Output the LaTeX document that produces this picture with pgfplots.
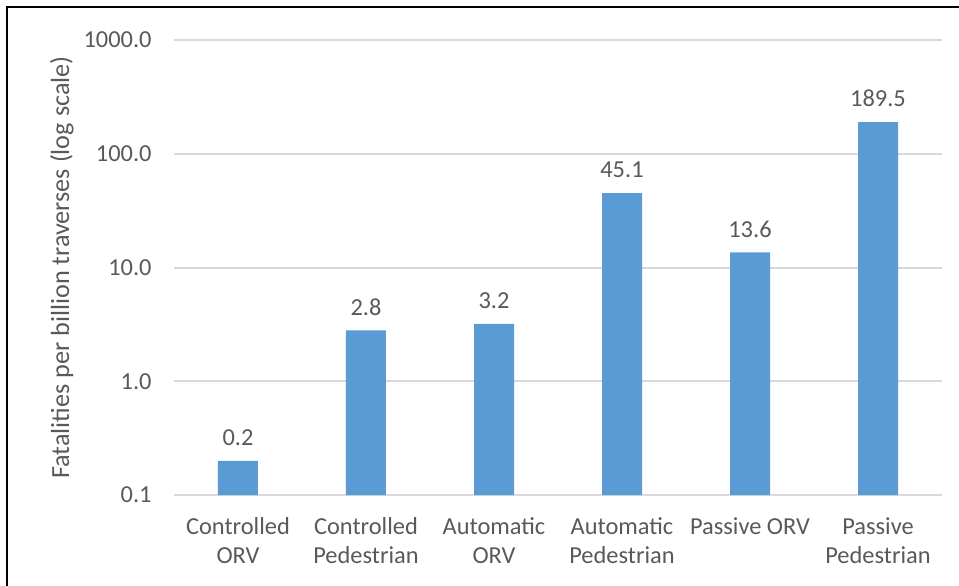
\documentclass[border=0pt]{standalone}
\usepackage{pgfplots}
\pgfplotsset{compat=1.18}
\usepackage{fontspec}
\setmainfont{Carlito}
\definecolor{barblue}{HTML}{5B9BD5}
\definecolor{txtgray}{HTML}{595959}
\definecolor{gridgray}{HTML}{D9D9D9}
\begin{document}
\begin{tikzpicture}
\begin{axis}[
  at={(0,0)}, anchor=south west,
  scale only axis,
  width=384pt, height=227.5pt,
  ymode=log, log origin=infty,
  ymin=0.1, ymax=1000,
  xmin=-0.5, xmax=5.5,
  ybar, bar width=20pt,
  axis line style={draw=none},
  major tick length=0pt,
  ymajorgrids, grid style={gridgray, line width=1pt},
  ytick={0.1,1,10,100,1000},
  yticklabels={0.1,1.0,10.0,100.0,1000.0},
  yminorticks=false,
  xtick={0,1,2,3,4,5},
  xticklabels={Controlled\\ORV, Controlled\\Pedestrian, Automatic\\ORV, Automatic\\Pedestrian, Passive ORV, Passive\\Pedestrian},
  /pgf/number format/assume math mode=true,
  ticklabel style={font=\fontsize{12.2}{14.2}\selectfont, text=txtgray},
  yticklabel style={anchor=east, inner sep=0pt, xshift=-11pt},
  xticklabel style={align=center, anchor=north, inner sep=0pt, yshift=-11.3pt},
  ylabel={Fatalities per billion traverses (log scale)},
  every axis y label/.style={at={(axis description cs:-0.146,0.5)}, rotate=90, anchor=center, font=\fontsize{13.1}{14}\selectfont, text=txtgray},
  point meta=explicit symbolic,
  nodes near coords,
  every node near coord/.append style={font=\fontsize{12.2}{14}\selectfont, text=txtgray, anchor=south, yshift=4pt},
  clip=false,
]
\addplot[fill=barblue, draw=none] coordinates {
  (0,0.2) [0.2]
  (1,2.8) [2.8]
  (2,3.2) [3.2]
  (3,45.1) [45.1]
  (4,13.6) [13.6]
  (5,189.5) [189.5]
};
\end{axis}
\useasboundingbox (-87pt,-45pt) rectangle (392.5pt,247.5pt);
\draw[line width=1.2pt, black] (-83.5pt,-46pt) -- (-83.5pt,244pt) -- (393pt,244pt);
\end{tikzpicture}
\end{document}
